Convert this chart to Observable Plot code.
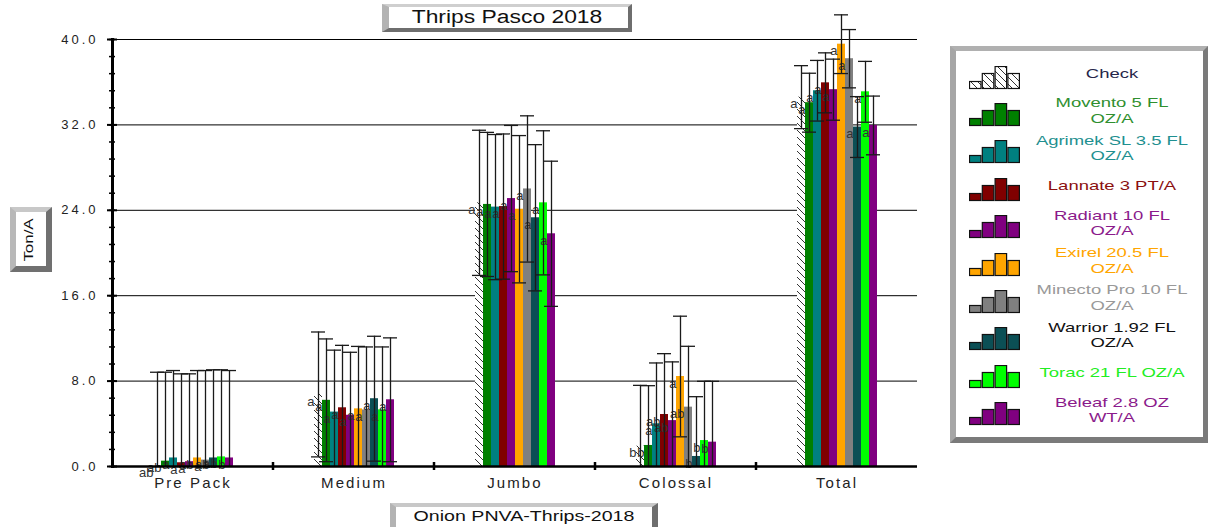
<!DOCTYPE html>
<html><head><meta charset="utf-8">
<script src="https://cdn.jsdelivr.net/npm/d3@7"></script>
<script src="https://cdn.jsdelivr.net/npm/@observablehq/plot@0.6"></script>
<style>
html,body{margin:0;padding:0;background:#fff;}
#page{position:relative;width:1209px;height:527px;overflow:hidden;font-family:"Liberation Sans",Arial,sans-serif;}
#chart{position:absolute;left:0;top:0;}
.bevel{position:absolute;box-sizing:border-box;background:#fff;border-style:solid;}
.lbl{position:absolute;text-align:center;white-space:nowrap;}
#chart g[aria-label="y-axis tick label"]{letter-spacing:3px;}
#chart g[aria-label="fx-axis tick label"]{letter-spacing:2.1px;}
</style>
</head><body>
<div id="page">
  <div id="chart"></div>
  <div class="bevel" style="left:382px;top:4px;width:250px;height:28px;border-width:3px 4px 4px 7px;border-color:#cfcfcf #6e6e6e #6e6e6e #b3b3b3;"></div>
  <div class="lbl" style="left:357px;top:6px;width:300px;line-height:22px;font-size:18px;color:#111;transform:scaleX(1.27);">Thrips Pasco 2018</div>
  <div class="bevel" style="left:10px;top:207px;width:42px;height:65px;border-width:5px 6px 6px 6px;border-color:#c8c8c8 #707070 #707070 #b8b8b8;"></div>
  <div class="lbl" style="left:-4px;top:232px;width:66px;line-height:16px;font-size:13px;color:#111;transform:rotate(-90deg) scaleX(1.3);">Ton/A</div>
  <div class="bevel" style="left:390px;top:503px;width:268px;height:34px;border-width:4px 6px 6px 6px;border-color:#c8c8c8 #6e6e6e #6e6e6e #b3b3b3;"></div>
  <div class="lbl" style="left:374px;top:507px;width:300px;line-height:18px;font-size:14px;color:#111;transform:scaleX(1.4);">Onion PNVA-Thrips-2018</div>
  <div class="bevel" id="legendBox" style="left:950px;top:46px;width:258px;height:397px;border-width:5px 5px 6px 6px;border-color:#b0b0b0 #7a7a7a #7a7a7a #a6a6a6;"></div>
</div>
<script>
// ---------------- data ----------------
const categories = ["Pre Pack", "Medium", "Jumbo", "Colossal", "Total"];
const treatments = ["Check", "Movento 5 FL\nOZ/A", "Agrimek SL 3.5 FL\nOZ/A", "Lannate 3 PT/A",
  "Radiant 10 FL\nOZ/A", "Exirel 20.5 FL\nOZ/A", "Minecto Pro 10 FL\nOZ/A", "Warrior 1.92 FL\nOZ/A",
  "Torac 21 FL OZ/A", "Beleaf 2.8 OZ\nWT/A"];

const prePackMeans  = [0.05, 0.5, 0.8, 0.35, 0.45, 0.8, 0.6, 0.8, 0.9, 0.8];
const mediumMeans   = [6.75, 6.2, 5.1, 5.5, 4.8, 5.4, 5.3, 6.35, 5.3, 6.25];
const jumboMeans    = [24.7, 24.55, 24.3, 24.35, 25.1, 24.1, 26.0, 23.3, 24.7, 21.8];
const colossalMeans = [1.9, 1.97, 4.0, 4.87, 4.3, 8.43, 5.56, 0.94, 2.43, 2.28];
const totalMeans    = [34.6, 34.08, 35.2, 35.94, 35.3, 39.56, 38.2, 31.8, 35.1, 31.95];

const prePackErr  = [8.78, 8.33, 8.19, 8.33, 8.23, 8.19, 8.39, 8.26, 8.16, 8.19];
const mediumErr   = [5.85, 5.75, 5.8, 5.85, 5.9, 5.85, 5.9, 5.85, 5.9, 5.8];
const jumboErr    = [6.8, 6.75, 6.8, 6.8, 6.85, 6.9, 6.85, 6.85, 6.75, 6.8];
const colossalErr = [5.7, 5.6, 5.7, 5.7, 5.5, 5.65, 5.7, 5.6, 5.55, 5.7];
const totalErr    = [2.95, 2.76, 2.84, 2.81, 2.86, 2.75, 2.73, 2.85, 2.85, 2.75];

const prePackLetters  = ["ab", "ab", "a", "a", "a", "ab", "a", "ab", "ab", "b"];
const mediumLetters   = ["a", "a", "a", "a", "a", "a", "a", "a", "a", "a"];
const jumboLetters    = ["a", "a", "a", "a", "a", "a", "a", "a", "a", "a"];
const colossalLetters = ["b", "b", "a", "ab", "ab", "a", "ab", "b", "b", "b"];
const totalLetters    = ["a", "a", "a", "a", "a", "a", "a", "a", "a", "a"];

const yTicks = [0, 8, 16, 24, 32, 40];

// ---------------- styles ----------------
const barColors  = ["#ffffff", "#008000", "#008080", "#800000", "#800080", "#ffa500", "#808080", "#0b4f55", "#00ff00", "#800080"];
const textColors = ["#26264a", "#2f8f2f", "#1f9090", "#8b1010", "#8b1a8b", "#ffa500", "#999999", "#111111", "#22ee22", "#8b1a8b"];

// ---------------- build table ----------------
const meansBy = [prePackMeans, mediumMeans, jumboMeans, colossalMeans, totalMeans];
const errBy = [prePackErr, mediumErr, jumboErr, colossalErr, totalErr];
const lettersBy = [prePackLetters, mediumLetters, jumboLetters, colossalLetters, totalLetters];
const rows = categories.flatMap((cat, ci) => treatments.map((trt, ti) => {
  const mean = meansBy[ci][ti], err = errBy[ci][ti];
  return {cat, trt, mean, err, lo: Math.max(0, mean - err), hi: mean + err, letter: lettersBy[ci][ti]};
}));
const checkRows = rows.filter(d => d.trt === treatments[0]);
const otherRows = rows.filter(d => d.trt !== treatments[0]);
const lowCaps = rows.filter(d => d.mean - d.err > 0);
const minorTicks = d3.range(0, 40.001, 1.6);

const chart = Plot.plot({
  width: 930, height: 500,
  marginLeft: 110, marginRight: 12, marginTop: 39, marginBottom: 34,
  style: {background: "transparent", fontFamily: "'Liberation Sans', Arial, sans-serif", overflow: "visible"},
  fx: {domain: categories, padding: 0, label: null},
  x: {domain: treatments, paddingInner: 0, paddingOuter: 4.5, axis: null},
  y: {domain: [0, 40]},
  color: {domain: treatments, range: barColors},
  marks: [
    Plot.ruleY(yTicks.slice(1), {stroke: "#000", strokeWidth: 1}),
    Plot.barY(checkRows, {fx: "cat", x: "trt", y: "mean", fill: "url(#hatch)"}),
    Plot.barY(otherRows, {fx: "cat", x: "trt", y: "mean", fill: "trt"}),
    Plot.text(rows, {fx: "cat", x: "trt", y: "mean", text: "letter", textAnchor: "end", dx: -4, dy: 7, fontSize: 13, fill: "#333"}),
    Plot.ruleX(rows, {fx: "cat", x: "trt", y1: "lo", y2: "hi", stroke: "#1a1a1a", strokeWidth: 1.3}),
    Plot.tickY(rows, {fx: "cat", x: "trt", y: "hi", insetLeft: -3, insetRight: -3, stroke: "#1a1a1a", strokeWidth: 1.3}),
    Plot.tickY(lowCaps, {fx: "cat", x: "trt", y: "lo", insetLeft: -3, insetRight: -3, stroke: "#1a1a1a", strokeWidth: 1.3}),
    Plot.ruleY([0], {stroke: "#000", strokeWidth: 2.5}),
    Plot.frame({anchor: "left", facetAnchor: "left", stroke: "#000", strokeWidth: 3}),
    Plot.axisY({ticks: yTicks, tickFormat: d => d.toFixed(1), tickSize: 0, tickPadding: 14, fontSize: 13, fill: "#222", label: null}),
    Plot.axisY({ticks: yTicks, tickSize: 10, dx: 5, text: null, strokeWidth: 2, label: null}),
    Plot.axisY({ticks: minorTicks, tickSize: 6, dx: 3, text: null, strokeWidth: 1.5, label: null}),
    Plot.axisFx({anchor: "bottom", tickSize: 0, tickPadding: 11, fontSize: 15, fill: "#222", label: null})
  ]
});

// hatch pattern + category boundary ticks on the base line
const svg = d3.select(chart);
svg.insert("defs", ":first-child").html(
  `<pattern id="hatch" patternUnits="userSpaceOnUse" width="7" height="7">
     <rect width="7" height="7" fill="#fff"/>
     <path d="M0,0L7,7M-1,6L1,8M6,-1L8,1" stroke="#333" stroke-width="1"/>
   </pattern>`);
const fxS = chart.scale("fx"), yS = chart.scale("y");
const tg = svg.append("g").attr("stroke", "#000").attr("stroke-width", 2.5);
categories.slice(1).forEach(c => {
  const x0 = fxS.apply(c);
  tg.append("line").attr("x1", x0).attr("x2", x0).attr("y1", yS.apply(0) - 4).attr("y2", yS.apply(0) + 4);
});
document.getElementById("chart").appendChild(chart);

// ---------------- legend ----------------
const page = document.getElementById("page");
const iconHeights = [7, 15, 22, 15];
treatments.forEach((t, i) => {
  const cy = 73.5 + i * 37.4;
  const fill = i === 0 ? "url(#hatch)" : barColors[i];
  const ns = "http://www.w3.org/2000/svg";
  const icon = document.createElementNS(ns, "svg");
  icon.setAttribute("width", 53); icon.setAttribute("height", 24);
  icon.style.position = "absolute"; icon.style.left = "969px"; icon.style.top = (cy - 8) + "px";
  iconHeights.forEach((h, k) => {
    const r = document.createElementNS(ns, "rect");
    r.setAttribute("x", 0.5 + k * 12.8); r.setAttribute("y", 22.5 - h);
    r.setAttribute("width", 11.5); r.setAttribute("height", h);
    r.setAttribute("fill", fill); r.setAttribute("stroke", "#111"); r.setAttribute("stroke-width", 1.2);
    icon.appendChild(r);
  });
  page.appendChild(icon);
  const lines = t.split("\n");
  const div = document.createElement("div");
  div.className = "lbl";
  div.style.cssText = `left:1012px;width:200px;top:${cy - lines.length * 7.75}px;line-height:15.5px;font-size:13px;color:${textColors[i]};transform:scaleX(1.42);`;
  div.innerHTML = lines.join("<br>");
  page.appendChild(div);
});
</script>
</body></html>
